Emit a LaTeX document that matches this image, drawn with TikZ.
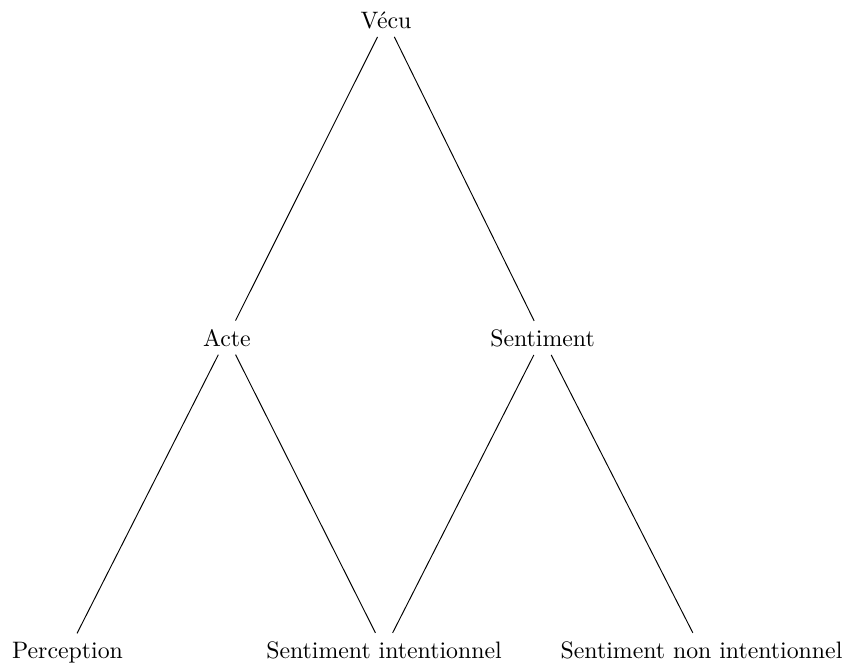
\documentclass[tikz,border=0pt]{standalone}
\begin{document}
\begin{tikzpicture}[x=0.42017pt,y=-0.42017pt,
  lbl/.style={anchor=base,inner sep=0.3333em},
  edge/.style={draw=black,line width=0.4pt}]
\useasboundingbox (0,0) rectangle (846,665);
\node[lbl] (vecu) at (386,28) {Vécu};
\node[lbl] (acte) at (227,346) {Acte};
\node[lbl] (sent) at (542.5,346) {Sentiment};
\node[lbl] (perc) at (67.5,658) {Perception};
\node[lbl] (si) at (384,658) {Sentiment intentionnel};
\node[lbl] (sni) at (701.5,658) {Sentiment non intentionnel};
\draw[edge] (vecu) -- (acte);
\draw[edge] (vecu) -- (sent);
\draw[edge] (acte) -- (perc);
\draw[edge] (acte) -- (si);
\draw[edge] (sent) -- (si);
\draw[edge] (sent) -- (sni);
\end{tikzpicture}
\end{document}
